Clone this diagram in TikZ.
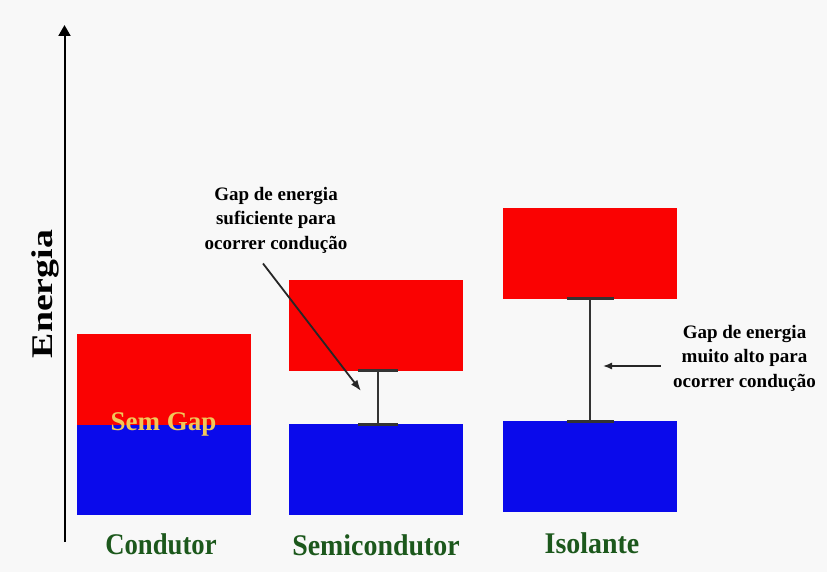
\documentclass[tikz,border=0pt]{standalone}
\usepackage{fontspec}
\setmainfont{Liberation Serif}
\usetikzlibrary{positioning}
\usetikzlibrary{arrows.meta}
\usetikzlibrary{calc}

\definecolor{vermelho}{RGB}{250,2,2}
\definecolor{azul}{RGB}{10,10,235}
\definecolor{verdeescuro}{RGB}{28,88,28}
\definecolor{amarelo}{RGB}{240,200,90}
\definecolor{fundo}{RGB}{248,248,248}

\def\lb{174}
\def\ab{90.5}

\tikzset{
  banda/.style={minimum width=\lb pt, minimum height=\ab pt, inner sep=0pt, outer sep=0pt, anchor=north west},
  bc/.style={banda, fill=vermelho},
  bv/.style={banda, fill=azul},
  rotulo/.style={font=\fontsize{30}{36}\selectfont\bfseries, text=verdeescuro, anchor=base, inner sep=0pt},
  nota/.style={font=\fontsize{19}{24.5}\selectfont\bfseries, align=center, anchor=north, inner sep=0pt},
  gap/.style={line width=1.5pt, draw=black!80, shorten <=-1.5pt, shorten >=-1.5pt},
  seta/.style={line width=1.8pt, draw=black!85, -{Latex[length=11pt,width=8pt]}},
}

\begin{document}
\begin{tikzpicture}[x=1pt, y=-1pt]
\fill[fundo] (0,0) rectangle (827,572);
\useasboundingbox (0,0) rectangle (827,572);

% eixo de energia
\coordinate (eixo-base) at (64.5,542);
\coordinate (eixo-topo) at (64.5,25);
\draw[line width=2pt, -{Triangle[length=11pt,width=12pt]}] (eixo-base) -- (eixo-topo);
\node[rotate=90, anchor=base, font=\fontsize{30}{36}\selectfont\bfseries, inner sep=0pt] (energia) at (52,294) {\scalebox{1.26}[1]{Energia}};

% condutor
\node[bc] (cond-bc) at (77,334) {};
\node[bv, below=0pt of cond-bc] (cond-bv) {};
\node[text=amarelo, font=\fontsize{27}{32}\selectfont\bfseries, anchor=base, inner sep=0pt] (sem-gap) at (163.5,430) {Sem Gap};

% semicondutor
\node[bc] (semi-bc) at (289,280) {};
\node[bv] (semi-bv) at (289,424) {};
\draw[gap, {Bar[width=40pt,line width=3pt]}-{Bar[width=40pt,line width=3pt]}] ([xshift=2pt]semi-bc.south) -- ([xshift=2pt]semi-bv.north);

% isolante
\node[bc] (iso-bc) at (503,208) {};
\node[bv] (iso-bv) at (503,421) {};
\draw[gap, {Bar[width=47pt,line width=3pt]}-{Bar[width=47pt,line width=3pt]}] (iso-bc.south) -- (iso-bv.north);

\node[rotulo] (r-cond) at (161,554) {\scalebox{0.89}[1]{Condutor}};
\node[rotulo] (r-semi) at (376,555) {\scalebox{0.93}[1]{Semicondutor}};
\node[rotulo] (r-iso) at (592,553) {\scalebox{0.93}[1]{Isolante}};

% notas
\node[nota] (nota-semi) at (276,187) {Gap de energia\\suficiente para\\ocorrer condução};
\coordinate (ponta-semi) at (361,391);
\draw[seta] ([xshift=-13pt,yshift=-10pt]nota-semi.south) -- (ponta-semi);

\node[nota] (nota-iso) at (744.5,325) {Gap de energia\\muito alto para\\ocorrer condução};
\coordinate (ponta-iso) at (603,366);
\draw[seta, line width=1.4pt, -{Latex[length=9pt,width=7pt]}] ($(nota-iso.west |- ponta-iso)+(-12,0)$) -- (ponta-iso);

\end{tikzpicture}
\end{document}
